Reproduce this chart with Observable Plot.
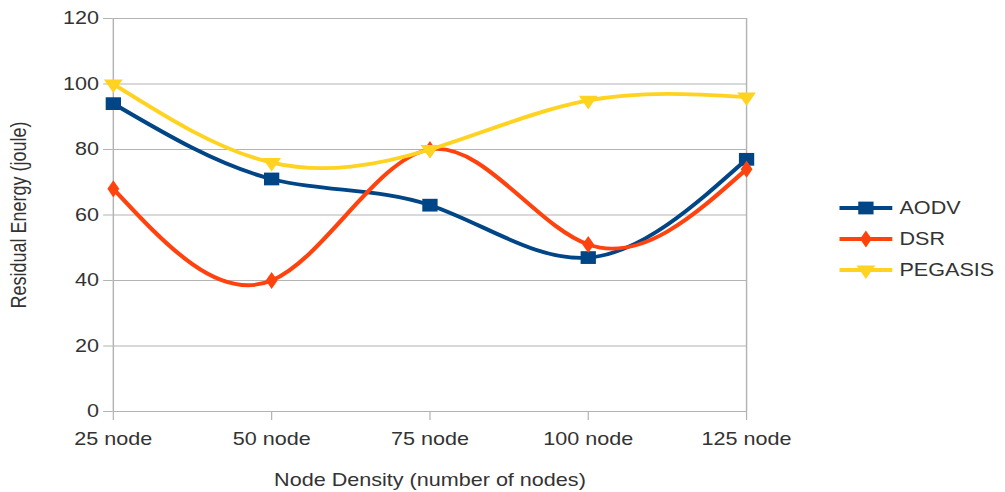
<!DOCTYPE html>
<html><head><meta charset="utf-8">
<script src="https://cdn.jsdelivr.net/npm/d3@7"></script>
<script src="https://cdn.jsdelivr.net/npm/@observablehq/plot@0.6"></script>
<style>
html,body{margin:0;padding:0;background:#fff;overflow:hidden}
#wrap{position:relative;width:838px;height:492px;transform:scaleX(1.1993);transform-origin:0 0;font-family:"Liberation Sans",Arial,sans-serif;background:#fff}
#legend{position:absolute;left:698px;top:190px}
</style></head><body><div id="wrap"></div>
<script>
const categories = ["25 node","50 node","75 node","100 node","125 node"];
const seriesNames = ["AODV","DSR","PEGASIS"];
const aodv = [94,71,63,47,77];
const dsr = [68,40,80,51,74];
const pegasis = [100,76,80,95,96];
const yTicks = [0,20,40,60,80,100,120];
const colors = ["#004586","#ff420e","#ffd320"];
const symbols = ["square","diamond","triangle"];
const symbolR = [7.2,5.2,5.8];
const symbolRotate = [0,0,180];
const xTitle = "Node Density (number of nodes)";
const yTitle = "Residual Energy (joule)";

const values = [aodv, dsr, pegasis];
const table = seriesNames.map((s, k) => categories.map((c, i) => ({cat: c, series: s, value: values[k][i]})));

const seriesMarks = [];
table.forEach((rows, k) => {
  seriesMarks.push(Plot.line(rows, {x: "cat", y: "value", stroke: colors[k], strokeWidth: 3.8, curve: "natural"}));
  seriesMarks.push(Plot.dot(rows, {x: "cat", y: "value", symbol: symbols[k], r: symbolR[k], rotate: symbolRotate[k], fill: colors[k], stroke: "none"}));
});

const chart = Plot.plot({
  width: 838, height: 492,
  marginLeft: 94, marginRight: 216, marginTop: 18, marginBottom: 81,
  style: {fontFamily: "'Liberation Sans', Arial, sans-serif", fontSize: "18px", color: "#333", background: "#fff", overflow: "visible"},
  x: {type: "point", domain: categories, padding: 0},
  y: {domain: [0, 120]},
  marks: [
    Plot.gridY(yTicks, {stroke: "#b3b3b3", strokeOpacity: 1, strokeWidth: 1.2}),
    Plot.ruleX([categories[0], categories[categories.length - 1]], {y1: 0, y2: 120, stroke: "#b3b3b3", strokeWidth: 1.2}),
    Plot.axisY(yTicks, {tickSize: 8, tickPadding: 4, stroke: "#b3b3b3", strokeOpacity: 1, fill: "#333", label: yTitle, labelAnchor: "center", labelOffset: 86, labelArrow: "none"}),
    Plot.axisX({tickSize: 9, tickPadding: 12, stroke: "#b3b3b3", strokeOpacity: 1, fill: "#333", label: xTitle, labelAnchor: "center", labelOffset: 74, labelArrow: "none"}),
    ...seriesMarks
  ]
});
const wrap = document.getElementById("wrap");
wrap.appendChild(chart);

// legend
const leg = d3.select(wrap).append("svg").attr("id", "legend").attr("width", 140).attr("height", 100)
  .style("font-family", "'Liberation Sans', Arial, sans-serif").style("font-size", "18px");
seriesNames.forEach((s, k) => {
  const g = leg.append("g").attr("transform", `translate(0,${18 + k * 31})`);
  g.append("line").attr("x1", 2).attr("x2", 46).attr("y1", 0).attr("y2", 0).attr("stroke", colors[k]).attr("stroke-width", 3.8);
  const sym = k === 0 ? d3.symbolSquare : k === 1 ? d3.symbolDiamond : d3.symbolTriangle;
  g.append("path").attr("d", d3.symbol(sym, symbolR[k] * symbolR[k] * Math.PI)())
    .attr("transform", `translate(24,0) rotate(${symbolRotate[k]})`).attr("fill", colors[k]);
  g.append("text").attr("x", 52).attr("y", 0).attr("dy", "0.35em").attr("fill", "#333").text(s);
});
</script></body></html>
